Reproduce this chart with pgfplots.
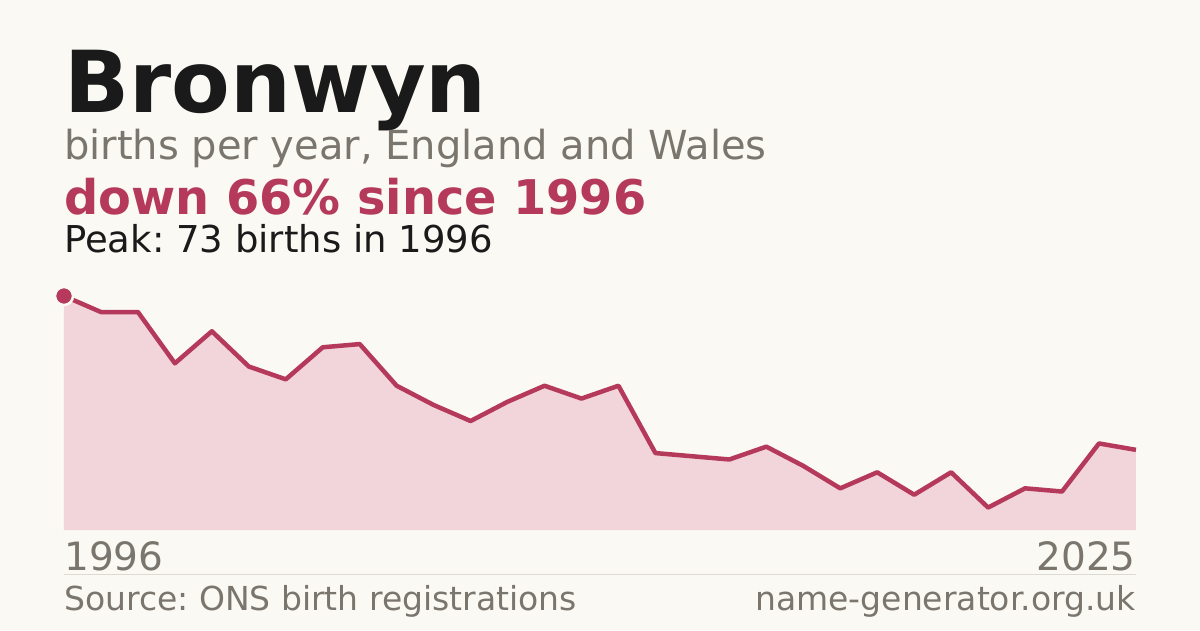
\documentclass[border=0pt]{standalone}
\usepackage{pgfplots}
\pgfplotsset{compat=1.18}
\usepackage{fontspec}
\setmainfont{DejaVu Sans}
\frenchspacing

\definecolor{bg}{HTML}{FAF9F4}
\definecolor{ink}{HTML}{1A1A1A}
\definecolor{muted}{HTML}{7A756D}
\definecolor{accent}{HTML}{B5395A}
\definecolor{areafill}{HTML}{F1D5DA}
\definecolor{rule}{HTML}{DDDAD3}

% births per year, 1996-2025
\pgfplotstableread{
year births
1996 73
1997 68
1998 68
1999 52
2000 62
2001 51
2002 47
2003 57
2004 58
2005 45
2006 39
2007 34
2008 40
2009 45
2010 41
2011 45
2012 24
2013 23
2014 22
2015 26
2016 20
2017 13
2018 18
2019 11
2020 18
2021 7
2022 13
2023 12
2024 27
2025 25
}\births

\begin{document}
\begin{tikzpicture}[x=1pt,y=1pt]
\fill[bg] (0,0) rectangle (1200,630);
\useasboundingbox (0,0) rectangle (1200,630);

\node[anchor=base west, inner sep=0pt, text=ink,
      font=\fontsize{85.5}{86}\selectfont\bfseries] at (64,517) {Bronwyn};
\node[anchor=base west, inner sep=0pt, text=muted,
      font=\fontsize{40}{40}\selectfont] at (64,470) {births per year, England and Wales};
\node[anchor=base west, inner sep=0pt, text=accent,
      font=\fontsize{47.8}{48}\selectfont\bfseries] at (64,415) {down 66\% since 1996};
\node[anchor=base west, inner sep=0pt, text=ink,
      font=\fontsize{37}{37}\selectfont] at (64,377) {Peak: 73 births in 1996};

\begin{axis}[
    at={(64pt,100pt)}, anchor=south west,
    scale only axis, width=1072pt, height=234pt,
    xmin=1996, xmax=2025, ymin=0, ymax=73,
    hide axis, clip=false,
]
  \addplot[fill=areafill, draw=none] table[x=year, y=births] {\births} \closedcycle;
  \addplot[accent, line width=4.5pt, line join=round] table[x=year, y=births] {\births};
  \addplot[only marks, mark=*, mark size=9pt,
           mark options={fill=accent, draw=bg, line width=2.5pt}]
    coordinates {(1996,73)};
\end{axis}

\node[anchor=base west, inner sep=0pt, text=muted,
      font=\fontsize{39}{39}\selectfont] at (64,60) {1996};
\node[anchor=base east, inner sep=0pt, text=muted,
      font=\fontsize{39}{39}\selectfont] at (1136,60) {2025};
\draw[rule, line width=1pt] (64,56) -- (1136,56);
\node[anchor=base west, inner sep=0pt, text=muted,
      font=\fontsize{33}{33}\selectfont] at (64,20) {Source: ONS birth registrations};
\node[anchor=base east, inner sep=0pt, text=muted,
      font=\fontsize{33}{33}\selectfont] at (1136,20) {name-generator.org.uk};
\end{tikzpicture}
\end{document}
